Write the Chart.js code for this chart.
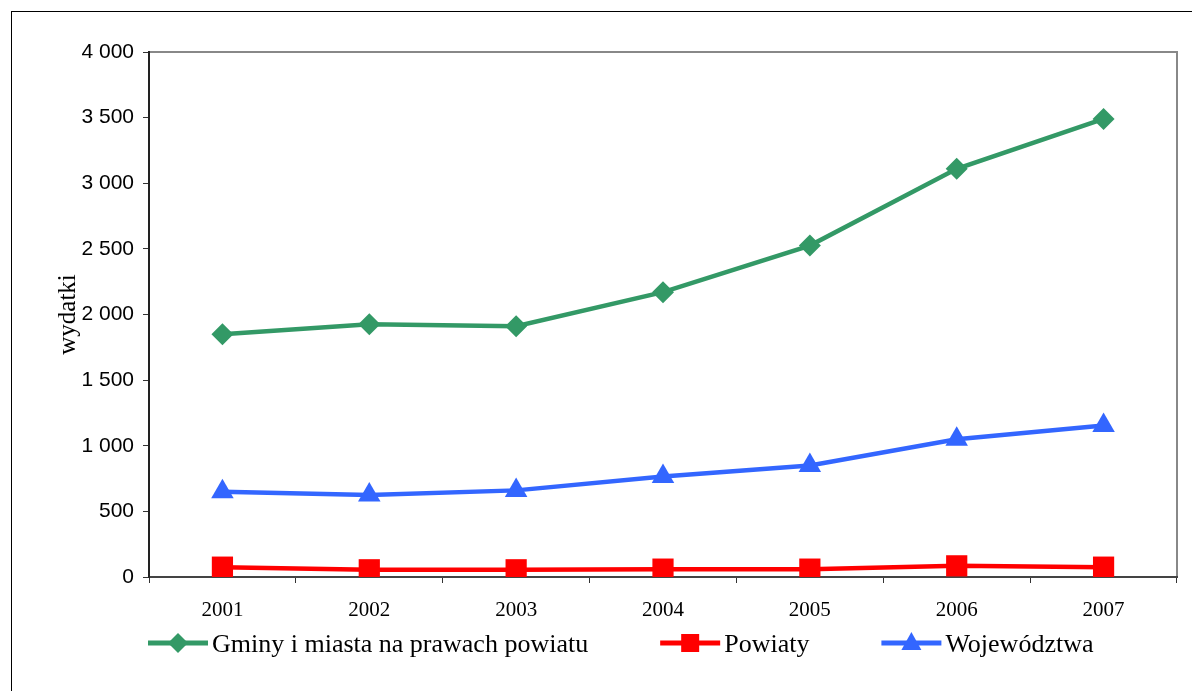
<!DOCTYPE html>
<html>
<head>
<meta charset="utf-8">
<script src="https://cdn.jsdelivr.net/npm/chart.js@4.4.0/dist/chart.umd.min.js"></script>
<style>
  html, body { margin: 0; padding: 0; background: #fff; overflow: hidden; }
  #frame { position: absolute; left: 11px; top: 11px; width: 1300px; height: 800px; border: 1px solid #000; }
  #chart { position: absolute; left: 0; top: 0; }
</style>
</head>
<body>
<div id="frame"></div>
<canvas id="chart" width="1192" height="691"></canvas>
<script>
let years = ['2001', '2002', '2003', '2004', '2005', '2006', '2007']
let gminy = [1850, 1925, 1910, 2170, 2525, 3110, 3490]
let powiaty = [75, 55, 55, 60, 60, 85, 75]
let wojewodztwa = [650, 625, 660, 765, 850, 1050, 1155]
let seriesNames = ['Gminy i miasta na prawach powiatu', 'Powiaty', 'Województwa']

let serif = '"Liberation Serif", "Times New Roman", serif'
let sans = '"Liberation Sans", Arial, sans-serif'

// thousands with a space, like "3 500"
function fmt(v) {
    return String(v).replace(/\B(?=(\d{3})+(?!\d))/g, ' ')
}

// gray frame on top and right of the plot area
let plotFrame = {
    id: 'plotFrame',
    beforeDraw(chart) {
        let a = chart.chartArea
        let ctx = chart.ctx
        ctx.save()
        ctx.strokeStyle = '#888'
        ctx.lineWidth = 2
        ctx.beginPath()
        ctx.moveTo(a.left, a.top)
        ctx.lineTo(a.right, a.top)
        ctx.lineTo(a.right, a.bottom)
        ctx.stroke()
        ctx.restore()
    }
}

// legend: line sample with marker, then the name
let lineLegend = {
    id: 'lineLegend',
    afterDraw(chart) {
        let ctx = chart.ctx
        let x = 148
        let y = 643
        ctx.save()
        ctx.font = '26px ' + serif
        ctx.textBaseline = 'middle'
        chart.data.datasets.forEach((ds) => {
            ctx.strokeStyle = ds.borderColor
            ctx.fillStyle = ds.borderColor
            ctx.lineWidth = 5
            ctx.beginPath()
            ctx.moveTo(x, y)
            ctx.lineTo(x + 60, y)
            ctx.stroke()
            let cx = x + 30
            ctx.beginPath()
            if (ds.pointStyle === 'rectRot') {
                ctx.moveTo(cx, y - 10); ctx.lineTo(cx + 10, y); ctx.lineTo(cx, y + 10); ctx.lineTo(cx - 10, y)
            } else if (ds.pointStyle === 'rect') {
                ctx.rect(cx - 9, y - 9, 18, 18)
            } else {
                ctx.moveTo(cx, y - 11); ctx.lineTo(cx + 10, y + 7); ctx.lineTo(cx - 10, y + 7)
            }
            ctx.closePath()
            ctx.fill()
            ctx.fillStyle = '#000'
            ctx.fillText(ds.label, x + 64, y + 2)
            x += 64 + ctx.measureText(ds.label).width + 72
        })
        ctx.restore()
    }
}

let ctxChart = document.querySelector('#chart').getContext('2d')

let lineChart = new Chart(ctxChart, {
    type: 'line',
    data: {
        labels: years,
        datasets: [
            {
                label: seriesNames[0],
                data: gminy,
                borderColor: '#339966',
                backgroundColor: '#339966',
                borderWidth: 4.5,
                pointStyle: 'rectRot',
                pointRadius: 11,
                pointBorderWidth: 0,
                fill: false
            },
            {
                label: seriesNames[1],
                data: powiaty,
                borderColor: '#FF0000',
                backgroundColor: '#FF0000',
                borderWidth: 4.5,
                pointStyle: 'rect',
                pointRadius: 15,
                pointBorderWidth: 0,
                fill: false
            },
            {
                label: seriesNames[2],
                data: wojewodztwa,
                borderColor: '#3366FF',
                backgroundColor: '#3366FF',
                borderWidth: 4.5,
                pointStyle: 'triangle',
                pointRadius: 13,
                pointBorderWidth: 0,
                fill: false
            }
        ]
    },
    options: {
        responsive: false,
        animation: false,
        layout: {
            padding: { left: 0, top: 52, right: 11, bottom: 64 }
        },
        plugins: {
            legend: { display: false },
            tooltip: { enabled: false }
        },
        scales: {
            x: {
                offset: true,
                afterFit: (s) => { s.height = 50 },
                grid: {
                    offset: true,
                    drawOnChartArea: false,
                    drawTicks: true,
                    tickLength: 6,
                    color: '#333'
                },
                border: { color: '#444', width: 2 },
                ticks: {
                    color: '#000',
                    padding: 15,
                    font: { family: serif, size: 21 }
                }
            },
            y: {
                min: 0,
                max: 4000,
                afterFit: (s) => { s.width = 149 },
                grid: {
                    drawOnChartArea: false,
                    drawTicks: true,
                    tickLength: 6,
                    color: '#333'
                },
                border: { color: '#222', width: 2 },
                ticks: {
                    stepSize: 500,
                    color: '#000',
                    padding: 9,
                    font: { family: sans, size: 21 },
                    callback: (v) => fmt(v)
                },
                title: {
                    display: true,
                    text: 'wydatki',
                    color: '#000',
                    padding: { top: 53, bottom: 0 },
                    font: { family: serif, size: 25 }
                }
            }
        }
    },
    plugins: [plotFrame, lineLegend]
})
</script>
</body>
</html>
